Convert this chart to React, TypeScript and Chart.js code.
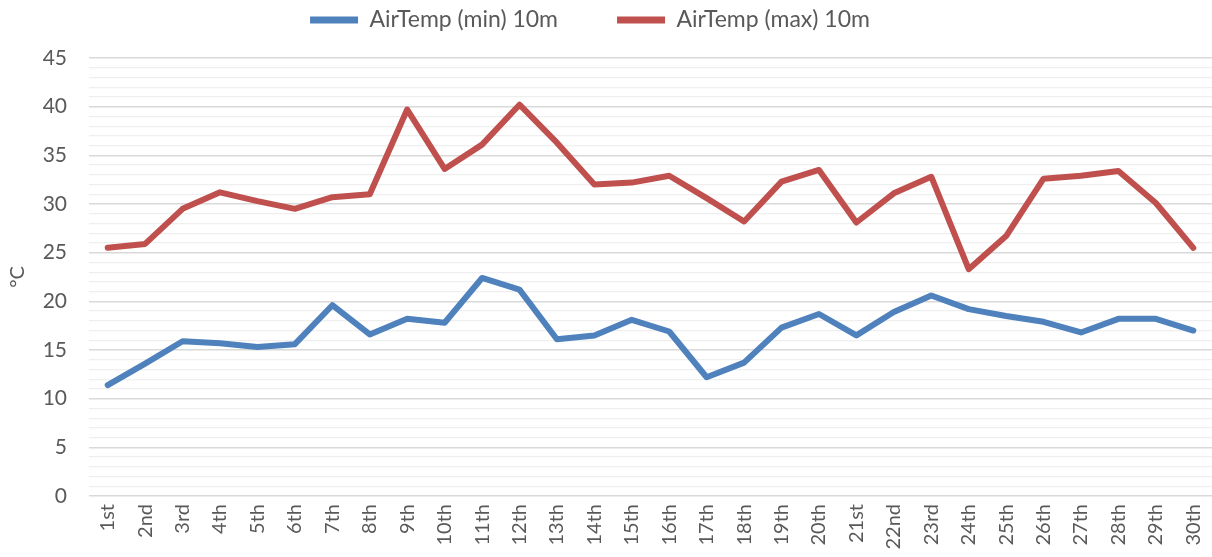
import React, { useEffect, useRef } from "react";
import { Chart, registerables } from "chart.js";

Chart.register(...registerables);

const days = ["1st","2nd","3rd","4th","5th","6th","7th","8th","9th","10th","11th","12th","13th","14th","15th","16th","17th","18th","19th","20th","21st","22nd","23rd","24th","25th","26th","27th","28th","29th","30th"];

const minTemp = [11.4,13.6,15.9,15.7,15.3,15.6,19.6,16.6,18.2,17.8,22.4,21.2,16.1,16.5,18.1,16.9,12.2,13.7,17.3,18.7,16.5,18.9,20.6,19.2,18.5,17.9,16.8,18.2,18.2,17.0];

const maxTemp = [25.5,25.9,29.5,31.2,30.3,29.5,30.7,31.0,39.7,33.6,36.1,40.2,36.3,32.0,32.2,32.9,30.6,28.2,32.3,33.5,28.1,31.1,32.8,23.3,26.7,32.6,32.9,33.4,30.1,25.5];

const seriesNames = ["AirTemp (min) 10m", "AirTemp (max) 10m"];
const yAxisTitle = "°C";

const BLUE = "#4F81BD";
const RED = "#C0504D";
const TEXT = "#595959";
const FONT = "Lato, 'Open Sans', sans-serif";
const LEGEND_PAD = 59;
const LEGEND_FONT = 23;

const legendLayout = {
  id: "legendLayout",
  beforeLayout(chart: any) {
    const lg = chart.legend;
    if (lg && !lg._patched) {
      const f = lg.fit.bind(lg);
      lg.fit = function () {
        f();
        this.height = 58;
      };
      lg._patched = true;
    }
  },
  afterLayout(chart: any) {
    const lg = chart.legend;
    if (lg) {
      lg.right -= 32;
      lg.top = 20 - LEGEND_PAD - LEGEND_FONT / 2;
    }
  },
};

export default function App() {
  const ref = useRef<HTMLCanvasElement | null>(null);

  useEffect(() => {
    if (!ref.current) return;
    const chart = new Chart(ref.current, {
      type: "line",
      data: {
        labels: days,
        datasets: [
          {
            label: seriesNames[0],
            data: minTemp,
            borderColor: BLUE,
            backgroundColor: BLUE,
            borderWidth: 6,
            pointRadius: 0,
            tension: 0,
            borderCapStyle: "round",
            borderJoinStyle: "round",
          },
          {
            label: seriesNames[1],
            data: maxTemp,
            borderColor: RED,
            backgroundColor: RED,
            borderWidth: 6,
            pointRadius: 0,
            tension: 0,
            borderCapStyle: "round",
            borderJoinStyle: "round",
          },
        ],
      },
      plugins: [legendLayout],
      options: {
        animation: false,
        responsive: false,
        maintainAspectRatio: false,
        layout: { padding: { top: 0, right: 0, left: 0, bottom: 0 } },
        plugins: {
          tooltip: { enabled: false },
          legend: {
            position: "top",
            labels: {
              color: TEXT,
              font: { family: FONT, size: LEGEND_FONT },
              boxWidth: 48,
              boxHeight: 7,
              padding: LEGEND_PAD,
              generateLabels: (c: any) =>
                c.data.datasets.map((d: any, i: number) => ({
                  text: d.label,
                  fillStyle: d.borderColor,
                  strokeStyle: d.borderColor,
                  lineWidth: 0,
                  fontColor: TEXT,
                  datasetIndex: i,
                  hidden: false,
                })),
            },
          },
        },
        scales: {
          x: {
            offset: true,
            grid: { display: false, drawTicks: false },
            border: { display: false },
            ticks: {
              color: TEXT,
              font: { family: FONT, size: 20 },
              minRotation: 90,
              maxRotation: 90,
              autoSkip: false,
              padding: 8,
            },
            afterFit: (s: any) => {
              s.height = 61;
              s.paddingRight = 0;
              s.paddingLeft = 0;
            },
          },
          y: {
            min: 0,
            max: 45,
            grid: {
              drawTicks: false,
              color: (ctx: any) =>
                ctx.tick && ctx.tick.value % 5 === 0 ? "#d9d9d9" : "#efefef",
              lineWidth: (ctx: any) =>
                ctx.tick && ctx.tick.value % 5 === 0 ? 1.5 : 1.2,
            },
            border: { display: false },
            ticks: {
              stepSize: 1,
              color: TEXT,
              font: { family: FONT, size: 21 },
              padding: 22,
              autoSkip: false,
              callback: (v: any) => (Number(v) % 5 === 0 ? String(v) : ""),
            },
            title: {
              display: true,
              text: yAxisTitle,
              color: TEXT,
              font: { family: FONT, size: 20 },
              padding: { top: 6, bottom: 0 },
            },
            afterFit: (s: any) => {
              s.width = 89;
            },
          },
        },
      },
    });
    return () => chart.destroy();
  }, []);

  return (
    <div style={{ position: "fixed", left: 0, top: 0, width: 1212, height: 557, background: "#fff" }}>
      <canvas ref={ref} width={1212} height={557} style={{ width: 1212, height: 557 }} />
    </div>
  );
}
